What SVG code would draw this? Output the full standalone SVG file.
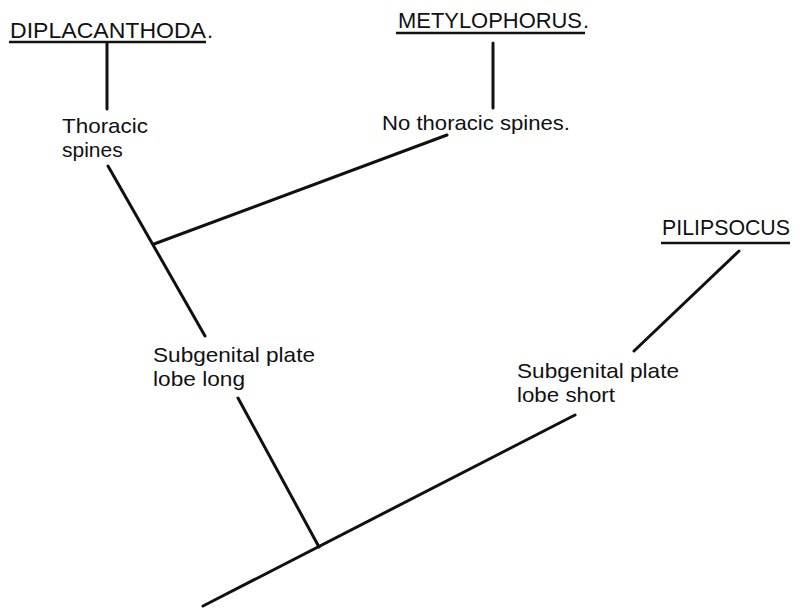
<svg xmlns="http://www.w3.org/2000/svg" width="802" height="611" viewBox="0 0 802 611">
<style>
  .lbl { font-family: "Liberation Sans", Arial, sans-serif; font-size: 21px; fill: #111; }
  .ttl { font-family: "Liberation Sans", Arial, sans-serif; font-size: 22px; fill: #111; }
  .ln { stroke: #111; stroke-width: 3; stroke-linecap: round; fill: none; }
  .ul { stroke: #111; stroke-width: 2.5; fill: none; }
</style>
<rect width="802" height="611" fill="#fff"/>
<g id="diplacanthoda">
  <text class="ttl" x="10" y="38" textLength="196" lengthAdjust="spacingAndGlyphs">DIPLACANTHODA</text>
  <text class="ttl" x="207" y="38">.</text>
  <line class="ul" x1="9" y1="42" x2="206" y2="42"/>
</g>
<g id="metylophorus">
  <text class="ttl" x="398" y="28" textLength="184" lengthAdjust="spacingAndGlyphs">METYLOPHORUS</text>
  <text class="ttl" x="583" y="28">.</text>
  <line class="ul" x1="396" y1="33" x2="585" y2="33"/>
</g>
<g id="pilipsocus">
  <text class="ttl" x="662" y="235" textLength="128" lengthAdjust="spacingAndGlyphs">PILIPSOCUS</text>
  <line class="ul" x1="661" y1="243" x2="790" y2="243"/>
</g>
<g id="thoracic-spines">
  <text class="lbl" x="62" y="133" textLength="86" lengthAdjust="spacingAndGlyphs">Thoracic</text>
  <text class="lbl" x="62" y="157">spines</text>
</g>
<g id="no-thoracic-spines">
  <text class="lbl" x="382" y="130" textLength="188" lengthAdjust="spacingAndGlyphs">No thoracic spines.</text>
</g>
<g id="lobe-long">
  <text class="lbl" x="153" y="362" textLength="162" lengthAdjust="spacingAndGlyphs">Subgenital plate</text>
  <text class="lbl" x="153" y="386" textLength="92" lengthAdjust="spacingAndGlyphs">lobe long</text>
</g>
<g id="lobe-short">
  <text class="lbl" x="517" y="378" textLength="162" lengthAdjust="spacingAndGlyphs">Subgenital plate</text>
  <text class="lbl" x="517" y="402" textLength="98" lengthAdjust="spacingAndGlyphs">lobe short</text>
</g>
<g id="connectors">
  <line class="ln" x1="107" y1="43" x2="107" y2="109"/>
  <line class="ln" x1="493" y1="43" x2="493" y2="108"/>
  <line class="ln" x1="108" y1="166" x2="205" y2="336"/>
  <line class="ln" x1="154" y1="244" x2="447" y2="135"/>
  <line class="ln" x1="739" y1="251" x2="634" y2="351"/>
  <line class="ln" x1="238" y1="398" x2="319" y2="547"/>
  <line class="ln" x1="203" y1="606" x2="575" y2="415"/>
</g>
</svg>
